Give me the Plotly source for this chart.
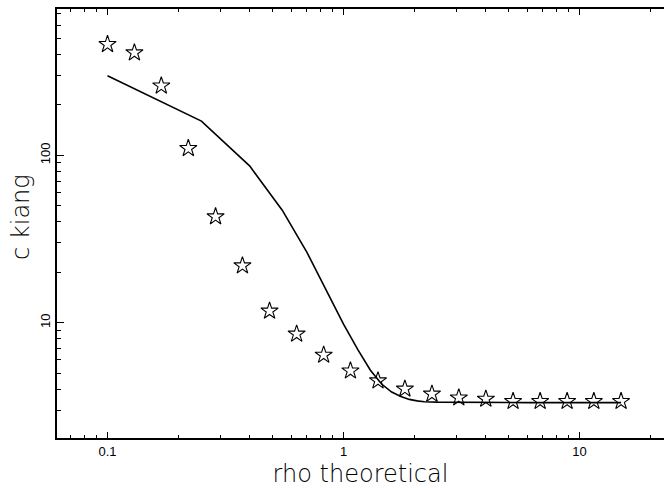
import plotly.graph_objects as go

# Star markers (measured data)
star_x = [0.1, 0.130, 0.169, 0.220, 0.287, 0.373, 0.486, 0.633, 0.824, 1.07,
          1.40, 1.82, 2.37, 3.08, 4.01, 5.23, 6.81, 8.86, 11.5, 15.0]
star_y = [460, 410, 260, 110, 43.0, 21.9, 11.75, 8.56, 6.41, 5.16,
          4.50, 4.02, 3.75, 3.56, 3.50, 3.39, 3.39, 3.39, 3.39, 3.39]

# Solid curve (theory)
line_x = [0.1, 0.25, 0.4, 0.55, 0.7, 0.85, 1.0, 1.15, 1.3, 1.45, 1.6, 1.75,
          1.9, 2.05, 2.2, 2.5, 3.0, 4.0, 6.0, 10.0, 15.0]
line_y = [299, 160, 86.5, 47, 26.3, 15.5, 9.8, 6.9, 5.2, 4.3, 3.85, 3.62,
          3.48, 3.41, 3.37, 3.35, 3.34, 3.33, 3.33, 3.33, 3.33]

x_major = [0.1, 1, 10]
x_labels = ["0.1", "1", "10"]
x_minor = [0.07, 0.08, 0.09, 0.2, 0.3, 0.4, 0.5, 0.6, 0.7, 0.8, 0.9,
           2, 3, 4, 5, 6, 7, 8, 9, 20]
y_major = [10, 100]
y_labels = ["10", "100"]
y_minor = [3, 4, 5, 6, 7, 8, 9, 20, 30, 40, 50, 60, 70, 80, 90,
           200, 300, 400, 500, 600, 700]

fig = go.Figure()
fig.add_trace(go.Scatter(x=line_x, y=line_y, mode="lines",
                         line=dict(color="black", width=1.6),
                         showlegend=False, hoverinfo="skip"))
fig.add_trace(go.Scatter(x=star_x, y=star_y, mode="markers",
                         marker=dict(symbol="star-open", size=13, color="black",
                                     line=dict(width=1.1, color="black")),
                         showlegend=False))

tick_font = dict(family="Liberation Sans, Arial", size=13, color="black")
title_font = dict(family="DejaVu Sans", size=24, color="black", weight=300)

fig.update_layout(
    width=664, height=488,
    margin=dict(l=57, r=0, t=9, b=50),
    paper_bgcolor="white", plot_bgcolor="white",
    xaxis=dict(type="log", range=[-1.214, 1.358],
               showline=True, linecolor="black", linewidth=2, mirror="ticks",
               showgrid=False, zeroline=False,
               ticks="inside", ticklen=6, tickwidth=1.3, tickcolor="black",
               tickvals=x_major, ticktext=x_labels, tickfont=tick_font,
               minor=dict(tickvals=x_minor, ticks="inside", ticklen=3,
                          tickwidth=1.3, tickcolor="black", showgrid=False),
               title=dict(text="rho theoretical", font=title_font, standoff=8)),
    yaxis=dict(type="log", range=[0.311, 2.874],
               showline=True, linecolor="black", linewidth=2, mirror=False,
               showgrid=False, zeroline=False,
               ticks="inside", ticklen=7, tickwidth=1.3, tickcolor="black",
               tickvals=y_major, ticktext=y_labels, tickfont=tick_font,
               tickangle=-90,
               minor=dict(tickvals=y_minor, ticks="inside", ticklen=3.5,
                          tickwidth=1.3, tickcolor="black", showgrid=False),
               title=dict(text="", font=title_font)),
)

fig.add_annotation(text="c kiang", xref="paper", yref="paper",
                   x=-57 / 607 + 21 / 607, y=(438 - 217) / 429,
                   xanchor="center", yanchor="middle", textangle=-90,
                   showarrow=False, font=title_font)

fig.write_html("out.html")
